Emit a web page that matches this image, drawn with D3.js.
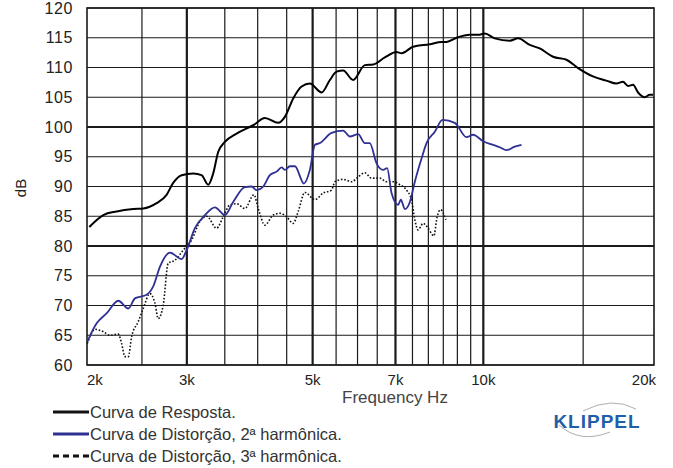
<!DOCTYPE html>
<html>
<head>
<meta charset="utf-8">
<script src="https://cdn.jsdelivr.net/npm/d3@7"></script>
<style>
  body { margin: 0; background: #fff; }
  text { font-family: "Liberation Sans", Arial, sans-serif; }
</style>
</head>
<body>
<svg id="chart" width="673" height="468"></svg>
<script>
// frequency (Hz) and level (dB)
var respFreq = [2019, 2137, 2256, 2413, 2513, 2653, 2763, 2838, 2937, 3079, 3185, 3272, 3339, 3407, 3501, 3672, 3928, 4119, 4347, 4467, 4621, 4781, 4945, 5185, 5363, 5511, 5660, 5895, 6181, 6393, 6704, 7030, 7174, 7520, 8047, 8439, 8612, 8969, 9467, 9791, 10061, 10477, 11136, 11518, 12077, 12577, 13275, 14017, 14693, 15613, 16485, 17168, 17634, 18001, 18371, 18748, 19265, 19654, 19919];
var respDb = [83.2, 85.2, 85.8, 86.2, 86.3, 87.2, 88.6, 90.6, 91.9, 92.2, 91.9, 90.3, 92.2, 95.8, 97.5, 98.9, 100.3, 101.5, 100.7, 101.7, 104.8, 106.8, 107.3, 105.8, 107.9, 109.3, 109.5, 107.9, 110.4, 110.5, 111.7, 112.6, 112.4, 113.5, 113.9, 114.3, 114.3, 115.0, 115.5, 115.5, 115.7, 114.9, 114.5, 114.9, 113.8, 113.2, 111.8, 111.3, 109.9, 108.5, 107.8, 107.3, 107.6, 106.9, 107.1, 105.8, 105.0, 105.4, 105.4];

var h2Freq = [2002, 2080, 2167, 2271, 2365, 2430, 2548, 2617, 2689, 2801, 2937, 2997, 3100, 3229, 3362, 3501, 3621, 3797, 3903, 3983, 4091, 4203, 4319, 4408, 4467, 4559, 4653, 4826, 4945, 5047, 5150, 5400, 5660, 5816, 6015, 6181, 6306, 6482, 6658, 6767, 6889, 7076, 7153, 7272, 7421, 7572, 7781, 7940, 8213, 8473, 8907, 9341, 9594, 9992, 10405, 10691, 10988, 11364, 11678];
var h2Db = [63.9, 67.0, 68.7, 70.8, 69.5, 71.2, 71.8, 73.2, 76.5, 78.9, 77.8, 79.3, 83.0, 85.2, 86.5, 85.2, 87.4, 89.9, 90.0, 89.4, 90.0, 91.9, 92.5, 93.2, 92.8, 93.4, 93.4, 90.5, 92.8, 97.0, 97.3, 99.0, 99.4, 98.4, 98.8, 97.3, 97.3, 93.9, 92.8, 93.1, 88.9, 86.9, 87.8, 86.2, 87.4, 90.8, 94.7, 97.3, 99.2, 101.2, 100.7, 98.3, 98.7, 97.6, 97.0, 96.6, 96.1, 96.7, 97.0];

var h3Freq = [2002, 2066, 2137, 2196, 2271, 2302, 2333, 2365, 2398, 2463, 2513, 2583, 2635, 2671, 2726, 2781, 2858, 2956, 3059, 3163, 3251, 3386, 3477, 3573, 3672, 3797, 3939, 4009, 4119, 4259, 4378, 4498, 4621, 4715, 4845, 5047, 5219, 5400, 5473, 5660, 5857, 6015, 6181, 6351, 6569, 6751, 6933, 7124, 7322, 7473, 7572, 7674, 7831, 7992, 8179, 8290, 8405, 8588];
var h3Db = [63.6, 66.0, 65.6, 65.0, 65.2, 63.6, 61.4, 61.4, 64.8, 67.3, 69.5, 72.0, 70.4, 67.8, 70.1, 77.1, 77.6, 79.3, 81.0, 84.1, 85.0, 83.0, 84.9, 86.9, 87.1, 86.3, 88.6, 86.3, 83.5, 85.2, 85.5, 84.9, 83.8, 85.8, 89.0, 87.8, 88.9, 89.4, 90.8, 91.2, 90.8, 91.6, 92.3, 91.4, 91.4, 90.8, 90.8, 90.3, 89.4, 87.7, 84.4, 82.7, 83.8, 83.0, 81.7, 84.9, 86.1, 84.4];

var xMinor = [2500, 3500, 4000, 4500, 5500, 6000, 6500, 7500, 8000, 8500, 9000, 9500, 15000];
var xMajor = [3000, 5000, 7000, 10000];
var xTicks = [2000, 3000, 5000, 7000, 10000, 20000];
var xTickLabels = ["2k", "3k", "5k", "7k", "10k", "20k"];
var yTicks = [60, 65, 70, 75, 80, 85, 90, 95, 100, 105, 110, 115, 120];
var yMajor = [80, 100];

var legendLabels = ["Curva de Resposta.", "Curva de Distorção, 2ª harmônica.", "Curva de Distorção, 3ª harmônica."];

var plotL = 87, plotR = 654, plotT = 8, plotB = 365;
var blue = "#2e3192", ink = "#1a1a1a";

var svg = d3.select("#chart");

var x = d3.scaleLog().domain([2000, 20000]).range([plotL, plotR]);
var y = d3.scaleLinear().domain([60, 120]).range([plotB, plotT]);

// grid
var grid = svg.append("g");
grid.selectAll(".hmin")
  .data(yTicks.filter(function (d) { return yMajor.indexOf(d) < 0; }))
  .enter().append("line")
    .attr("x1", plotL).attr("x2", plotR)
    .attr("y1", function (d) { return y(d); })
    .attr("y2", function (d) { return y(d); })
    .attr("stroke", ink).attr("stroke-width", 1.2);
grid.selectAll(".vmin")
  .data(xMinor)
  .enter().append("line")
    .attr("x1", function (d) { return x(d); })
    .attr("x2", function (d) { return x(d); })
    .attr("y1", plotT).attr("y2", plotB)
    .attr("stroke", ink).attr("stroke-width", 1.2);
grid.selectAll(".hmaj")
  .data(yMajor)
  .enter().append("line")
    .attr("x1", plotL).attr("x2", plotR)
    .attr("y1", function (d) { return y(d); })
    .attr("y2", function (d) { return y(d); })
    .attr("stroke", ink).attr("stroke-width", 2.2);
grid.selectAll(".vmaj")
  .data(xMajor)
  .enter().append("line")
    .attr("x1", function (d) { return x(d); })
    .attr("x2", function (d) { return x(d); })
    .attr("y1", plotT).attr("y2", plotB)
    .attr("stroke", ink).attr("stroke-width", 2.2);
grid.append("rect")
  .attr("x", plotL).attr("y", plotT)
  .attr("width", plotR - plotL).attr("height", plotB - plotT)
  .attr("fill", "none").attr("stroke", ink).attr("stroke-width", 1.6);

// tick labels
svg.append("g").selectAll("text")
  .data(yTicks)
  .enter().append("text")
    .attr("x", 73)
    .attr("y", function (d) { return y(d) + 5.5; })
    .attr("text-anchor", "end")
    .style("font-size", "16px")
    .style("letter-spacing", "0.6px")
    .attr("fill", "#222")
    .text(function (d) { return d; });

svg.append("g").selectAll("text")
  .data(xTicks)
  .enter().append("text")
    .attr("x", function (d, i) { return i == 0 ? plotL : (i == xTicks.length - 1 ? plotR + 2 : x(d)); })
    .attr("y", 385)
    .attr("text-anchor", function (d, i) { return i == 0 ? "start" : (i == xTicks.length - 1 ? "end" : "middle"); })
    .style("font-size", "15px")
    .attr("fill", "#222")
    .text(function (d, i) { return xTickLabels[i]; });

svg.append("text")
  .attr("x", 395).attr("y", 403)
  .attr("text-anchor", "middle")
  .style("font-size", "17px")
  .attr("fill", "#444")
  .text("Frequency Hz");

svg.append("text")
  .attr("transform", "translate(26,188)rotate(-90)")
  .attr("text-anchor", "middle")
  .style("font-size", "15px")
  .attr("fill", "#222")
  .text("dB");

// curves
var line = d3.line()
  .x(function (d) { return x(d[0]); })
  .y(function (d) { return y(d[1]); })
  .curve(d3.curveMonotoneX);

svg.append("path")
  .datum(h3Freq.map(function (f, i) { return [f, h3Db[i]]; }))
  .attr("d", line)
  .attr("fill", "none").attr("stroke", "#111")
  .attr("stroke-width", 1.6).attr("stroke-dasharray", "1.6,1.8");

svg.append("path")
  .datum(h2Freq.map(function (f, i) { return [f, h2Db[i]]; }))
  .attr("d", line)
  .attr("fill", "none").attr("stroke", blue)
  .attr("stroke-width", 1.8);

svg.append("path")
  .datum(respFreq.map(function (f, i) { return [f, respDb[i]]; }))
  .attr("d", line)
  .attr("fill", "none").attr("stroke", "#000")
  .attr("stroke-width", 2);

// legend
var legendColors = ["#111", blue, "#111"];
var legendDash = [null, null, "6,4"];
var lg = svg.append("g");
legendLabels.forEach(function (t, i) {
  var ly = 412 + i * 22;
  lg.append("line")
    .attr("x1", 53).attr("x2", 89)
    .attr("y1", ly).attr("y2", ly)
    .attr("stroke", legendColors[i]).attr("stroke-width", 3)
    .attr("stroke-dasharray", legendDash[i]);
  lg.append("text")
    .attr("x", 90).attr("y", ly + 5.5)
    .style("font-size", "16.5px")
    .attr("fill", "#333")
    .text(t);
});

// logo
var logo = svg.append("g");
logo.append("text")
  .attr("x", 597).attr("y", 428)
  .attr("text-anchor", "middle")
  .style("font-size", "19px")
  .style("font-weight", "bold")
  .style("letter-spacing", "1px")
  .attr("fill", "#1f5fa8")
  .text("KLIPPEL");
logo.append("path")
  .attr("d", "M583,411 Q612,396 636,409")
  .attr("fill", "none").attr("stroke", "#999").attr("stroke-width", 0.8);
logo.append("path")
  .attr("d", "M559,425 Q580,444 610,432")
  .attr("fill", "none").attr("stroke", "#999").attr("stroke-width", 0.8);
</script>
</body>
</html>
